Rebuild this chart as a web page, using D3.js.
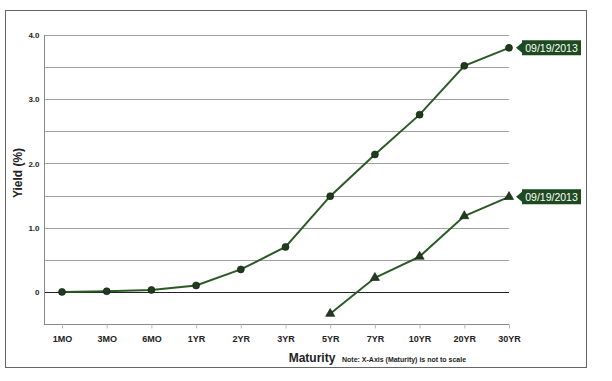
<!DOCTYPE html>
<html><head><meta charset="utf-8">
<script src="https://cdn.jsdelivr.net/npm/d3@7"></script>
<style>body{margin:0;background:#fff}svg{display:block;font-family:Arial,"Liberation Sans",sans-serif}</style>
</head><body><svg id="c" width="612" height="381"></svg>
<script>
const maturities = ["1MO","3MO","6MO","1YR","2YR","3YR","5YR","7YR","10YR","20YR","30YR"];
const nominalYields = [0.00,0.01,0.03,0.10,0.35,0.70,1.49,2.14,2.76,3.52,3.80];
const realMaturities = ["5YR","7YR","10YR","20YR","30YR"];
const realYields = [-0.34,0.22,0.55,1.18,1.48];
const yTickValues = [0,1,2,3,4];
const yTickLabels = ["0","1.0","2.0","3.0","4.0"];
const dateLabel = "09/19/2013";

const svg = d3.select("#c");
const green = "#2b5a26", dark = "#1f3d1c", boxFill = "#1d4a1f";

svg.append("rect").attr("x",5.5).attr("y",10.5).attr("width",581).attr("height",357)
  .attr("fill","none").attr("stroke","#666").attr("stroke-width",1);

const x = d3.scalePoint().domain(maturities).range([62,509]);
const y = d3.scaleLinear().domain([-0.5,4.0]).range([324,35]);

// gridlines
const grid = d3.range(-0.5,4.01,0.5).filter(v=>v>-0.5 && Math.abs(v)>1e-9);
svg.append("g").selectAll("line").data(grid).join("line")
  .attr("x1",44).attr("x2",509).attr("y1",d=>Math.round(y(d))+0.5).attr("y2",d=>Math.round(y(d))+0.5)
  .attr("stroke","#a0a0a0").attr("stroke-width",1);
svg.append("line").attr("x1",44).attr("x2",509).attr("y1",Math.round(y(0))+0.5).attr("y2",Math.round(y(0))+0.5)
  .attr("stroke","#222").attr("stroke-width",1);

// y axis
const ya = svg.append("g").attr("transform","translate(44.5,0)")
  .call(d3.axisLeft(y).tickValues(yTickValues).tickFormat((d,i)=>yTickLabels[i]).tickSize(0).tickPadding(5));
ya.select(".domain").attr("stroke","#888").attr("d","M0,"+y(4)+"V"+y(-0.5));
ya.selectAll("text").attr("font-size",8).attr("font-weight","bold").attr("fill","#222");

// x axis
const xa = svg.append("g").attr("transform","translate(0,"+(y(-0.5)+0.5)+")")
  .call(d3.axisBottom(x).tickSize(4).tickPadding(7));
xa.select(".domain").attr("stroke","#888").attr("d","M44,0H509");
xa.selectAll(".tick line").attr("stroke","#bbb");
xa.selectAll("text").attr("font-size",9).attr("font-weight","bold").attr("fill","#222");

// axis titles
svg.append("text").attr("transform","translate(22,173) rotate(-90)").attr("text-anchor","middle")
  .attr("font-size",12).attr("font-weight","bold").attr("fill","#222").text("Yield (%)");
svg.append("text").attr("x",312).attr("y",362).attr("text-anchor","middle")
  .attr("font-size",12).attr("font-weight","bold").attr("fill","#222").text("Maturity");
svg.append("text").attr("x",342).attr("y",362)
  .attr("font-size",7).attr("font-weight","bold").attr("fill","#222").text("Note: X-Axis (Maturity) is not to scale");

// lines
const nom = maturities.map((m,i)=>({m,v:nominalYields[i]}));
const real = realMaturities.map((m,i)=>({m,v:realYields[i]}));
const line = d3.line().x(d=>x(d.m)).y(d=>y(d.v));
svg.append("path").datum(nom).attr("d",line).attr("fill","none").attr("stroke",green).attr("stroke-width",2);
svg.append("path").datum(real).attr("d",line).attr("fill","none").attr("stroke",green).attr("stroke-width",2);

svg.append("g").selectAll("circle").data(nom).join("circle")
  .attr("cx",d=>x(d.m)).attr("cy",d=>y(d.v)).attr("r",3.5).attr("fill",dark).attr("stroke","#111").attr("stroke-width",0.6);
svg.append("g").selectAll("path").data(real).join("path")
  .attr("transform",d=>"translate("+x(d.m)+","+y(d.v)+")")
  .attr("d",d3.symbol(d3.symbolTriangle,36)).attr("fill",dark).attr("stroke","#111").attr("stroke-width",0.6);

// date labels
function tag(d){
  const px = x(d.m)+7, py = y(d.v);
  const g = svg.append("g").attr("transform","translate("+px+","+py+")");
  g.append("path").attr("d","M0,0L6,-5V-7.5H65V7.5H6V5Z").attr("fill",boxFill);
  g.append("text").attr("x",35.5).attr("y",3.8).attr("text-anchor","middle").attr("font-size",10.5)
    .attr("fill","#fff").text(dateLabel);
}
tag(nom[nom.length-1]);
tag(real[real.length-1]);
</script></body></html>
